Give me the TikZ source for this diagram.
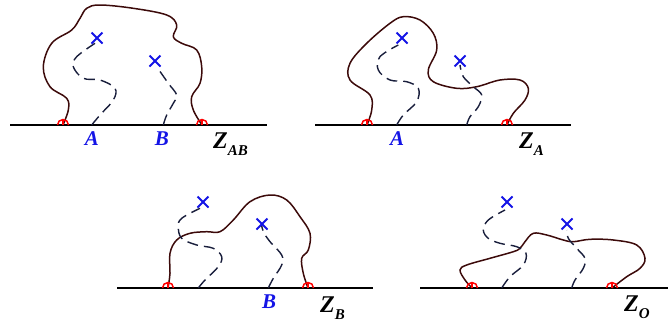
\documentclass[tikz,border=0pt]{standalone}
\usepackage{fontspec}
\setmainfont{Liberation Serif}
\begin{document}
\begin{tikzpicture}[x=1pt,y=-1pt,
  base/.style={line width=2.2pt,black},
  loop/.style={line width=1.5pt,color={rgb,255:red,60;green,10;blue,10}},
  path/.style={line width=1.4pt,color={rgb,255:red,25;green,30;blue,60},dash pattern=on 11pt off 6pt},
  crossmark/.style={line width=2pt,color={rgb,255:red,20;green,20;blue,230}},
  lbl/.style={font=\fontsize{21}{21}\selectfont\bfseries\itshape,text={rgb,255:red,20;green,20;blue,230},inner sep=0pt,anchor=base},
  zlbl/.style={font=\fontsize{24}{24}\selectfont\bfseries\itshape,inner sep=0pt,anchor=base west}]
\useasboundingbox (0,0) rectangle (669,322);
\newcommand{\mymark}[1]{\draw[red,line width=1.5pt] ([xshift=-5.5pt]#1) arc[start angle=180,end angle=0,radius=5.5pt];
  \draw[red,line width=1.2pt] (#1) -- ([yshift=5.5pt]#1);}
\newcommand{\mycross}[1]{\draw[crossmark] ([shift={(-5.5,-5.5)}]#1) -- ([shift={(5.5,5.5)}]#1) ([shift={(-5.5,5.5)}]#1) -- ([shift={(5.5,-5.5)}]#1);}
\newcommand{\zsub}[1]{\raisebox{-7pt}{\fontsize{15}{15}\selectfont #1}}
% ---------- Panel 1
\coordinate (l1a) at (10,125); \coordinate (l1b) at (267,125);
\coordinate (m1a) at (63,125); \coordinate (m1b) at (202,125);
\coordinate (x1a) at (97,38); \coordinate (x1b) at (155,61);
\draw[base] (l1a) -- (l1b);
\draw[loop] plot[smooth,tension=0.6] coordinates {(63,125) (68.3,110) (66.7,98.3) (50,86.7) (43.3,66.7) (51.7,43.3) (71.7,30) (80,18.3) (86.7,8.3) (100,5) (133.3,8.3) (166.7,15) (176.7,25) (173.3,36.7) (181.7,43.3) (196.7,50) (201.7,66.7) (200,83.3) (191.7,96.7) (193.3,110) (202,125)};
\draw[path] plot[smooth,tension=0.6] coordinates {(91.7,125) (100,115) (113.3,100) (115,88.3) (100,80) (83.3,78.3) (73.3,66.7) (76.7,56.7) (95,43.3)};
\draw[path] plot[smooth,tension=0.6] coordinates {(163.3,125) (166.7,115) (173.3,103.3) (176.7,95) (168.3,83.3) (156.7,66.7)};
\mymark{m1a} \mymark{m1b}
\mycross{x1a} \mycross{x1b}
\node[lbl] (A1) at (92,145) {A};
\node[lbl] (B1) at (162,145) {B};
\node[zlbl] (Z1) at (213,148) {Z\zsub{AB}};
% ---------- Panel 2
\coordinate (l2a) at (315,125); \coordinate (l2b) at (571,125);
\coordinate (m2a) at (367,125); \coordinate (m2b) at (507,125);
\coordinate (x2a) at (402,38); \coordinate (x2b) at (460,61);
\draw[base] (l2a) -- (l2b);
\draw[loop] plot[smooth,tension=0.6] coordinates {(367,125) (371.7,110) (370,95) (350,80) (350,63.3) (366.7,43.3) (390,23.3) (403.3,16.7) (420,20) (433.3,33.3) (436.7,50) (428.3,70) (433.3,81.7) (456.7,88.3) (476.7,86.7) (500,80) (520,80) (528.3,88.3) (525,100) (513.3,113.3) (507,125)};
\draw[path] plot[smooth,tension=0.6] coordinates {(396.7,125) (403.3,115) (416.7,101.7) (418.3,88.3) (406.7,81.7) (390,80) (378.3,70) (380,56.7) (398.3,45)};
\draw[path] plot[smooth,tension=0.6] coordinates {(466.7,125) (470,116.7) (478.3,106.7) (481.7,95) (473.3,86.7) (463.3,76.7) (460,65)};
\mymark{m2a} \mymark{m2b}
\mycross{x2a} \mycross{x2b}
\node[lbl] (A2) at (397,145) {A};
\node[zlbl] (Z2) at (519,148) {Z\zsub{A}};
% ---------- Panel 3
\coordinate (l3a) at (117,288); \coordinate (l3b) at (373,288);
\coordinate (m3a) at (168,288); \coordinate (m3b) at (308,288);
\coordinate (x3a) at (203,202); \coordinate (x3b) at (262,224);
\draw[base] (l3a) -- (l3b);
\draw[loop] plot[smooth,tension=0.6] coordinates {(168,288) (170,273.3) (170,253.3) (176.7,240) (190,233.3) (206.7,231.7) (220,231.7) (233.3,220) (250,201.7) (270,195) (286.7,200) (300,216.7) (310,233.3) (308.3,250) (301.7,258.3) (303.3,273.3) (308,288)};
\draw[path] plot[smooth,tension=0.6] coordinates {(198.3,288) (205,280) (218.3,266.7) (221.7,256.7) (213.3,248.3) (196.7,245) (181.7,238.3) (178.3,226.7) (181.7,218.3) (200,208.3)};
\draw[path] plot[smooth,tension=0.6] coordinates {(268.3,288) (273.3,278.3) (281.7,265) (281.7,255) (270,241.7) (263.3,231.7) (261.7,225)};
\mymark{m3a} \mymark{m3b}
\mycross{x3a} \mycross{x3b}
\node[lbl] (B3) at (269,308) {B};
\node[zlbl] (Z3) at (320,312) {Z\zsub{B}};
% ---------- Panel 4
\coordinate (l4a) at (420,288); \coordinate (l4b) at (668,288);
\coordinate (m4a) at (472,288); \coordinate (m4b) at (612,288);
\coordinate (x4a) at (507,202); \coordinate (x4b) at (567,224);
\draw[base] (l4a) -- (l4b);
\draw[loop] plot[smooth,tension=0.6] coordinates {(472,288) (465,280) (460,270) (466.7,265) (490,258.3) (513.3,251.7) (520,248.3) (525,241.7) (533.3,233.3) (546.7,235) (563.3,240) (573.3,241.7) (590,239.3) (613.3,240) (636.7,245) (645,258.3) (640,268.3) (626.7,276.7) (612,288)};
\draw[path] plot[smooth,tension=0.6] coordinates {(501.7,288) (510,276.7) (523.3,265) (526,253.3) (516.7,246.7) (500,243.3) (488.3,238.3) (483.3,230) (488.3,220) (505,210)};
\draw[path] plot[smooth,tension=0.6] coordinates {(571.7,288) (575,280) (583.3,268.3) (585,258.3) (576.7,248.3) (568.3,238.3) (566.7,230)};
\mymark{m4a} \mymark{m4b}
\mycross{x4a} \mycross{x4b}
\node[zlbl] (Z4) at (624,311) {Z\zsub{O}};
\end{tikzpicture}
\end{document}
